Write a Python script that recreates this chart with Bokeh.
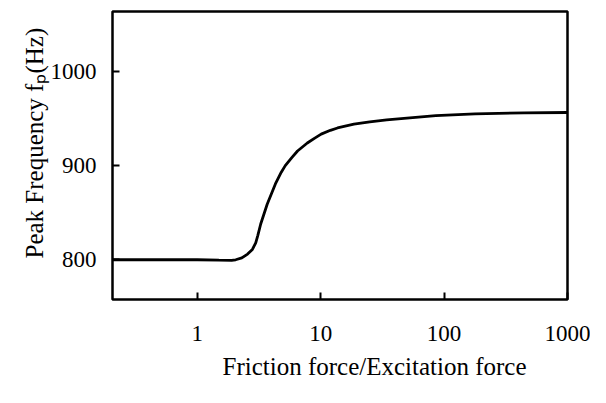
from bokeh.plotting import figure
from bokeh.models import FixedTicker, Range1d, Title
from bokeh.embed import file_html
from bokeh.resources import INLINE

# data
ratio = [0.206, 0.5, 1.0, 1.5, 1.9, 2.05, 2.3, 2.56, 2.8, 2.98, 3.1, 3.27, 3.69, 4.3, 4.8, 5.17,
         5.84, 6.5, 7.8, 8.9, 10.1, 12.0, 13.7, 18.6, 25.0, 34.3, 50.0, 85.8, 178.0, 446.0, 1000.0]
peak_freq = [800.0, 800.0, 800.0, 799.6, 799.4, 800.0, 802.0, 806.0, 811.0, 818.0, 826.0, 838.0, 859.0, 880.5, 893.0, 900.0,
             908.5, 915.5, 924.0, 929.0, 933.5, 937.5, 940.0, 944.0, 946.5, 948.6, 950.5, 953.0, 955.0, 956.0, 956.4]
x_ticks = [1, 10, 100, 1000]
y_ticks = [800, 900, 1000]
x_title = "Friction force/Excitation force"
y_title = "Peak Frequency f\u209a(Hz)"

FONT = "Liberation Serif"
W, H = 590, 387

p = figure(width=W, height=H, x_axis_type="log", output_backend="svg", toolbar_location=None,
           x_range=Range1d(0.206, 1000), y_range=Range1d(757.8, 1063.7),
           min_border_left=112, min_border_right=23, min_border_top=11, min_border_bottom=88)
p.background_fill_color = "white"
p.border_fill_color = "white"
p.grid.visible = False
p.outline_line_color = "black"
p.outline_line_width = 2.5

p.line(ratio, peak_freq, line_color="black", line_width=2.8)

for ax, ticks in ((p.xaxis[0], x_ticks), (p.yaxis[0], y_ticks)):
    ax.ticker = FixedTicker(ticks=ticks, minor_ticks=[])
    ax.axis_line_color = None
    ax.major_tick_line_color = "black"
    ax.major_tick_line_width = 2
    ax.major_tick_in = 7
    ax.major_tick_out = 0
    ax.minor_tick_line_color = None
    ax.major_label_text_font = FONT
    ax.major_label_text_font_size = "23px"
    ax.major_label_text_color = "black"
p.xaxis.major_label_standoff = 26
p.yaxis.major_label_standoff = 16
p.xaxis.major_label_overrides = {1: "1", 10: "10", 100: "100", 1000: "1000"}

p.add_layout(Title(text=y_title, align="left", offset=41, standoff=0,
                   text_font=FONT, text_font_size="25px", text_font_style="normal",
                   text_color="black"), "left")

p.add_layout(Title(text=x_title, align="left", offset=110, standoff=15,
                   text_font=FONT, text_font_size="25px", text_font_style="normal",
                   text_color="black", text_baseline="alphabetic"), "below")

open("out.html", "w").write(file_html(p, INLINE))
